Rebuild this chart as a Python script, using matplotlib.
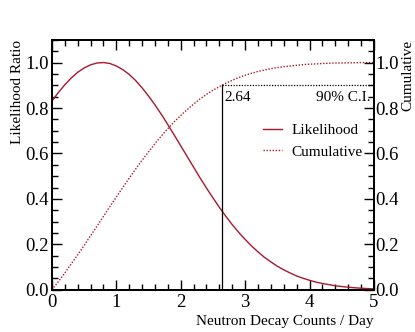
import numpy as np
import matplotlib.pyplot as plt
from matplotlib.ticker import MultipleLocator

plt.rcParams['font.family'] = ['Liberation Serif', 'DejaVu Serif']

# values (every 0.1 counts/day)
counts = [round(0.1 * i, 1) for i in range(51)]
likelihood = [0.830, 0.868, 0.902, 0.932, 0.957, 0.976, 0.990, 0.998, 1.000, 0.996,
              0.985, 0.969, 0.948, 0.921, 0.889, 0.853, 0.814, 0.772, 0.727, 0.681,
              0.634, 0.587, 0.540, 0.493, 0.448, 0.405, 0.363, 0.324, 0.287, 0.253,
              0.222, 0.193, 0.167, 0.143, 0.123, 0.104, 0.088, 0.074, 0.061, 0.051,
              0.042, 0.034, 0.028, 0.023, 0.018, 0.0145, 0.0115, 0.0091, 0.0071, 0.0056,
              0.0043]
cumulative = [0.0, 0.036, 0.074, 0.114, 0.154, 0.195, 0.238, 0.280, 0.323, 0.366,
              0.408, 0.450, 0.491, 0.531, 0.570, 0.607, 0.643, 0.677, 0.709, 0.739,
              0.767, 0.793, 0.817, 0.840, 0.860, 0.878, 0.894, 0.909, 0.922, 0.934,
              0.944, 0.953, 0.961, 0.967, 0.973, 0.978, 0.982, 0.985, 0.988, 0.991,
              0.993, 0.994, 0.996, 0.997, 0.998, 0.998, 0.999, 0.999, 1.0, 1.0,
              1.0]
limit_x = 2.64
limit_cl = 0.9

red = '#a8192e'

fig = plt.figure(figsize=(4.15, 3.32), dpi=100)
ax = fig.add_axes([0.125, 0.127, 0.776, 0.753])
ax2 = ax.twinx()

l1, = ax.plot(counts, likelihood, color=red, lw=1.0, label='Likelihood')
l2, = ax.plot(counts, cumulative, color=red, lw=1.0, ls=(0, (1, 1.2)), label='Cumulative')

# 90% C.I. markers
ax.plot([limit_x, limit_x], [0, limit_cl], color='black', lw=0.9)
ax.plot([limit_x, 5], [limit_cl, limit_cl], color='black', lw=0.9, ls=(0, (1, 1.2)))
ax.text(limit_x + 0.04, limit_cl - 0.025, '%.2f' % limit_x, fontsize=11, va='top', ha='left')
ax.text(4.94, limit_cl - 0.025, '90% C.I.', fontsize=11, va='top', ha='right')

for a in (ax, ax2):
    a.set_xlim(0, 5)
    a.set_ylim(0, 1.1)
    a.yaxis.set_major_locator(MultipleLocator(0.2))
    a.yaxis.set_minor_locator(MultipleLocator(0.05))
    for s in a.spines.values():
        s.set_linewidth(1.3)
ax.xaxis.set_major_locator(MultipleLocator(1))
ax.xaxis.set_minor_locator(MultipleLocator(0.2))

ax.tick_params(which='both', direction='in', top=True, right=False, labelsize=13.5, width=1.0)
ax.tick_params(which='major', length=7)
ax.tick_params(which='minor', length=4)
ax2.tick_params(which='both', direction='in', labelsize=13.5, width=1.0, pad=1)
ax2.tick_params(which='major', length=7)
ax2.tick_params(which='minor', length=4)
ax.tick_params(axis='x', pad=3)
ax.tick_params(axis='y', pad=2)

# axis titles
fig.text(0.041, 0.88, 'Likelihood Ratio', fontsize=11, rotation=90, ha='center', va='top')
fig.text(0.982, 0.88, 'Cumulative', fontsize=11, rotation=90, ha='center', va='top')
ax.set_xlabel('Neutron Decay Counts / Day', fontsize=11, loc='right', labelpad=3)

ax.legend(handles=[l1, l2], loc='upper left', bbox_to_anchor=(0.655, 0.665), frameon=False,
          fontsize=11, handlelength=1.25, handletextpad=0.6, labelspacing=0.5,
          borderpad=0, borderaxespad=0)

fig.savefig('out.png', dpi=100)
